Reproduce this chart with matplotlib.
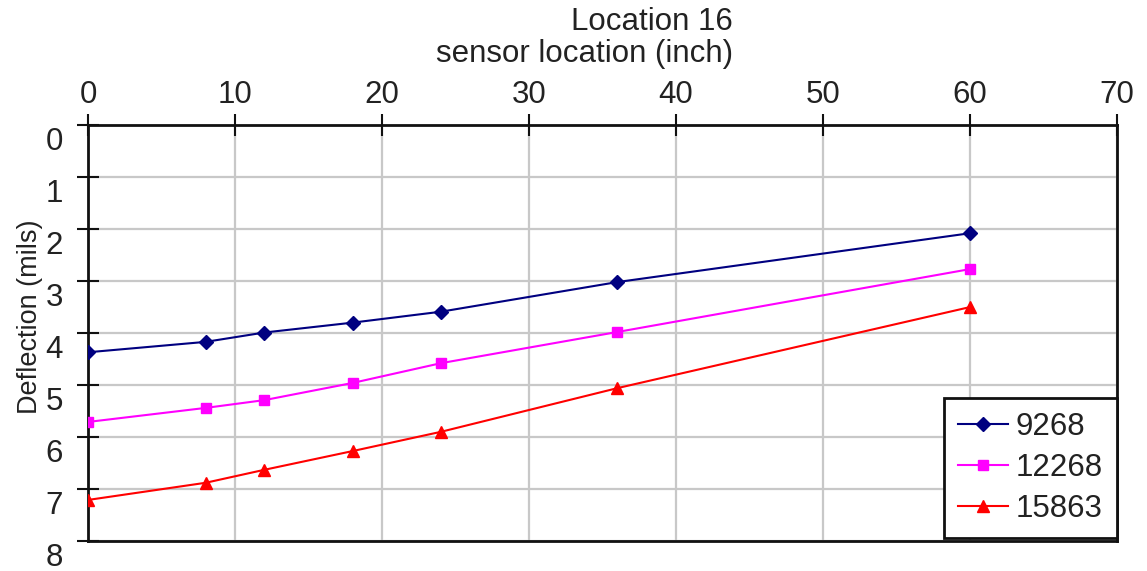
import matplotlib
matplotlib.use("Agg")
import matplotlib.pyplot as plt
from matplotlib.transforms import ScaledTranslation

plt.rcParams["font.family"] = ["Liberation Sans", "DejaVu Sans"]

sensor_location = [0, 8, 12, 18, 24, 36, 60]
series_labels = ["9268", "12268", "15863"]
defl_9268 = [4.37, 4.17, 3.99, 3.80, 3.59, 3.02, 2.08]
defl_12268 = [5.71, 5.44, 5.29, 4.96, 4.58, 3.98, 2.77]
defl_15863 = [7.21, 6.88, 6.63, 6.27, 5.90, 5.06, 3.50]
x_ticks = [0, 10, 20, 30, 40, 50, 60, 70]
y_ticks = [0, 1, 2, 3, 4, 5, 6, 7, 8]

styles = [
    ("#000080", "D", 7),
    ("#ff00ff", "s", 7.5),
    ("#ff0000", "^", 8.5),
]

fig = plt.figure(figsize=(11.47, 5.71), dpi=100)
ax = fig.add_axes([0.0767, 0.0525, 0.8973, 0.7285])

for vals, label, (color, marker, ms) in zip(
    [defl_9268, defl_12268, defl_15863], series_labels, styles
):
    ax.plot(sensor_location, vals, color=color, marker=marker, markersize=ms,
            linewidth=1.5, label=label, zorder=3)

ax.set_xlim(0, 70)
ax.set_ylim(8, 0)
ax.set_xticks(x_ticks)
ax.set_yticks(y_ticks)
ax.xaxis.tick_top()
ax.tick_params(axis="both", direction="inout", length=16, width=1.5,
               color="#111111", labelsize=22.5, labelcolor="#222222")
ax.tick_params(axis="x", pad=3)
ax.tick_params(axis="y", pad=10)
ax.grid(True, color="#c8c8c8", linewidth=1.6)
ax.set_axisbelow(True)
for sp in ax.spines.values():
    sp.set_color("#111111")
    sp.set_linewidth(2)

# y tick labels sit a bit below their ticks in the original
offset = ScaledTranslation(0, -0.13, fig.dpi_scale_trans)
for lbl in ax.get_yticklabels():
    lbl.set_transform(lbl.get_transform() + offset)

ax.set_ylabel("Deflection (mils)", fontsize=19.5, color="#222222")
ax.yaxis.set_label_coords(-0.044, 0.54)

fig.text(733 / 1147, 1 - 7 / 571, "Location 16\nsensor location (inch)",
         ha="right", va="top", multialignment="right", fontsize=22.5,
         color="#222222", linespacing=1.08)

leg = ax.legend(loc="lower right", bbox_to_anchor=(1.0, 0.007), fontsize=22.5,
                frameon=True, fancybox=False, borderaxespad=0,
                handlelength=1.6, handletextpad=0.25, labelspacing=0.35,
                borderpad=0.45, framealpha=1)
leg.get_frame().set_edgecolor("#111111")
leg.get_frame().set_linewidth(2)
for t in leg.get_texts():
    t.set_color("#222222")

fig.savefig("out.png", dpi=100)
